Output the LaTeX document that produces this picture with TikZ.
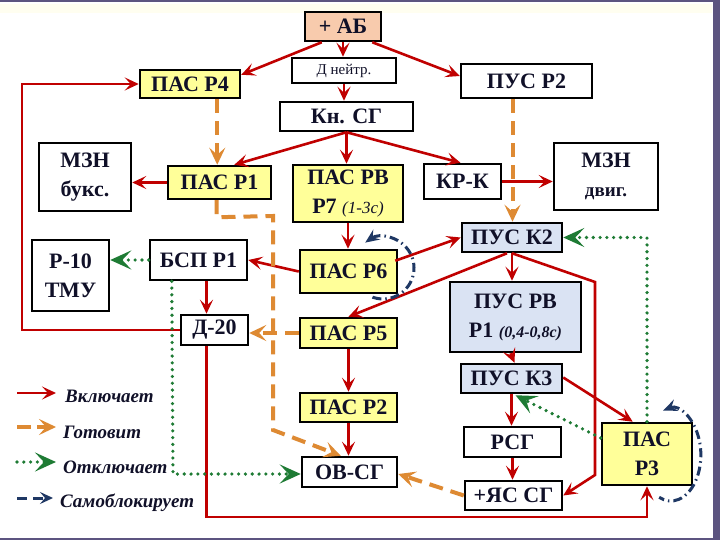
\documentclass[tikz,border=0pt]{standalone}
\usepackage{fontspec}
\setmainfont{Liberation Serif}
\usetikzlibrary{arrows.meta,calc}
\definecolor{incred}{HTML}{C00000}
\definecolor{prepor}{HTML}{DE8A33}
\definecolor{offgr}{HTML}{1E7B34}
\definecolor{blkn}{HTML}{1F3864}
\definecolor{yel}{HTML}{FFFF99}
\definecolor{peach}{HTML}{F8CBAD}
\definecolor{lblue}{HTML}{DAE3F3}
\definecolor{frm}{HTML}{5C5480}
\definecolor{txt}{HTML}{101028}
\tikzset{
  box/.style={draw=black, line width=2.5pt, inner sep=0pt, align=center, text=txt,
    font=\bfseries\fontsize{22}{29}\selectfont},
  inc/.style={draw=incred, line width=2.6pt, -{Stealth[length=14pt,width=13pt,inset=6pt]}},
  prep/.style={draw=prepor, line width=4pt, dash pattern=on 14pt off 8pt,
    -{Stealth[length=17pt,width=16pt,inset=7pt]}},
  offd/.style={draw=offgr, line width=3.6pt, line cap=round, dash pattern=on 0pt off 6.8pt,
    -{Stealth[length=21pt,width=19pt,inset=9pt]}},
  selfb/.style={draw=blkn, line width=3pt, dash pattern=on 9pt off 4pt on 1.5pt off 4pt,
    {Stealth[length=14pt,width=12pt,inset=5pt]}-},
  legtext/.style={anchor=west, inner sep=0pt, text=txt, font=\bfseries\itshape\fontsize{19}{21}\selectfont}
}
\begin{document}
\begin{tikzpicture}[x=1pt,y=1pt]
\useasboundingbox (0,0) rectangle (720,-540);
\fill[white] (0,0) rectangle (720,-540);
\fill[yellow!6] (0,-4) rectangle (712,-13);
\fill[frm] (0,0) rectangle (720,-2.5);
\fill[frm] (0,-537.5) rectangle (720,-540);
\fill[frm] (712.5,0) rectangle (720,-540);

% nodes
\node[box, fill=peach, minimum width=76pt, minimum height=29pt] (ab) at (343,-26.5) {+ АБ};
\node[box, fill=white, minimum width=104pt, minimum height=25pt, font=\mdseries\fontsize{15}{18}\selectfont] (dn) at (344,-70.5) {Д нейтр.};
\node[box, fill=yel, minimum width=100pt, minimum height=28pt] (p4) at (190,-84) {ПАС Р4};
\node[box, fill=white, minimum width=131pt, minimum height=34pt] (pusr2) at (526.5,-81) {ПУС Р2};
\node[box, fill=white, minimum width=133pt, minimum height=29pt] (kn) at (346.5,-116.5) {Кн. СГ};
\node[box, fill=white, minimum width=92pt, minimum height=68pt] (mzb) at (85,-177) {МЗН\\букс.};
\node[box, fill=yel, minimum width=103pt, minimum height=33pt] (p1) at (219.5,-182.5) {ПАС Р1};
\node[box, fill=yel, minimum width=110pt, minimum height=57pt] (prv) at (348,-193.5) {ПАС РВ\\Р7 {\mdseries\itshape\fontsize{17}{20}\selectfont (1-3с)}};
\node[box, fill=white, minimum width=77pt, minimum height=35pt] (krk) at (462.5,-181.5) {КР-К};
\node[box, fill=white, minimum width=104pt, minimum height=67pt] (mzd) at (606,-176.5) {МЗН\\{\fontsize{19}{29}\selectfont двиг.}};
\node[box, fill=white, minimum width=77pt, minimum height=71pt] (r10) at (70.5,-275.5) {Р-10\\ТМУ};
\node[box, fill=white, minimum width=97pt, minimum height=40pt] (bsp) at (198.5,-260) {БСП Р1};
\node[box, fill=yel, minimum width=97pt, minimum height=43pt] (p6) at (348.5,-271.5) {ПАС Р6};
\node[box, fill=lblue, minimum width=100pt, minimum height=29pt] (k2) at (512,-237.5) {ПУС К2};
\node[box, fill=white, minimum width=67pt, minimum height=30pt] (d20) at (214.5,-330) {Д-20};
\node[box, fill=yel, minimum width=97pt, minimum height=30pt] (p5) at (348.5,-333) {ПАС Р5};
\node[box, fill=lblue, minimum width=131pt, minimum height=70pt] (purv) at (515.5,-317) {ПУС РВ\\Р1 {\itshape\fontsize{16}{20}\selectfont (0,4-0,8с)}};
\node[box, fill=lblue, minimum width=101pt, minimum height=29pt] (k3) at (511.5,-378.5) {ПУС К3};
\node[box, fill=yel, minimum width=97pt, minimum height=29pt] (p2) at (348.5,-407.5) {ПАС Р2};
\node[box, fill=white, minimum width=97pt, minimum height=30pt] (rsg) at (512.5,-442) {РСГ};
\node[box, fill=white, minimum width=95pt, minimum height=30pt] (ov) at (349.5,-472) {ОВ-СГ};
\node[box, fill=white, minimum width=97pt, minimum height=29pt] (yas) at (513.5,-495.5) {+ЯС СГ};
\node[box, fill=yel, minimum width=90pt, minimum height=62pt] (p3) at (647,-454) {ПАС\\Р3};

% helper coordinates
\coordinate (rA) at (595,-282);
\coordinate (rB) at (595,-475);
\coordinate (rC) at (22,-330);
\coordinate (rD) at (206.5,-517);
\coordinate (oA) at (273,-216);
\coordinate (oB) at (273,-430);
\coordinate (gA) at (173,-474);
\coordinate (q1) at ($(p4.south east)+(-24,0)$);
\coordinate (q2) at ($(pusr2.south)+(-14,0)$);
\coordinate (q3) at ($(bsp.south)+(8,0)$);
\coordinate (q4) at ($(p1.south)+(-3,0)$);
\coordinate (q5) at ($(p1.south)+(-3,-17)$);

% red: includes
\draw[inc] ($(ab.south west)+(18,0)$) -- ($(p4.north east)+(0,-6)$);
\draw[inc] (ab.south) -- (ab.south |- dn.north);
\draw[inc] ($(ab.south east)+(-10,0)$) -- ($(pusr2.west)+(0,5)$);
\draw[inc] (dn.south) -- (dn.south |- kn.north);
\draw[inc] (kn.south) -- ($(p1.north east)+(-38,0)$);
\draw[inc] (kn.south) -- (kn.south |- prv.north);
\draw[inc] (kn.south) -- ($(krk.north)+(-2,0)$);
\draw[inc] (p1.west) -- (p1.west -| mzb.east);
\draw[inc] (krk.east) -- (krk.east -| mzd.west);
\draw[inc] (prv.south) -- (prv.south |- p6.north);
\draw[inc] (p6.west) -- (bsp.east);
\draw[inc] ($(p6.north east)+(-3,-12)$) -- (k2.west);
\draw[inc] ($(k2.south)+(-5,0)$) -- (p5.north);
\draw[inc] (k2.south) -- (k2.south |- purv.north);
\draw[inc] (k2.south) -- (rA) -- (rB) -- (yas.east);
\draw[inc] (q3) -- (q3 |- d20.north);
\draw[inc] (d20.west) -- (rC) |- (p4.west);
\draw[inc] ($(d20.south)+(-8,0)$) -- (rD) -| (p3.south);
\draw[inc] (p5.south) -- (p2.north);
\draw[inc] (p2.south) -- (p2.south |- ov.north);
\draw[inc] ($(purv.south)+(-5,0)$) -- ($(k3.north)+(3,0)$);
\draw[inc] (k3.south) -- (k3.south |- rsg.north);
\draw[inc] (rsg.south) -- (rsg.south |- yas.north);
\draw[inc] ($(k3.east)+(0,1)$) -- ($(p3.north west)+(32,0)$);

% orange: prepares
\draw[prep] (q1) -- (q1 |- p1.north);
\draw[prep] (q2) -- (q2 |- k2.north);
\draw[prep] (q4) -- (q5) -- (oA) -- (oB) -- ($(ov.north west)+(40,0)$);
\draw[prep] (p5.west) -- (p5.west -| d20.east);
\draw[prep] (yas.west) -- ($(ov.east)+(0,-2)$);

% green: switches off
\draw[offd] (bsp.west) -- (bsp.west -| r10.east);
\draw[offd] ($(bsp.south west)+(23,0)$) -- (gA) -- (gA -| ov.west);
\draw[offd] (p3.north) |- (k2.east);
\draw[offd] ($(p3.west)+(0,16)$) -- ($(k3.south)+(4,-1)$);

% navy: self-locking
\draw[selfb] (383,-268) ++(125:31) arc[start angle=125, end angle=-117, radius=31];
\draw[selfb] (675,-455) ++(105:46) arc[start angle=105, end angle=-113, x radius=30, y radius=46];

% legend
\coordinate (la1) at (17,-393); \coordinate (lb1) at (56,-393);
\coordinate (la2) at (17,-427); \coordinate (lb2) at (56,-427);
\coordinate (la3) at (17,-462); \coordinate (lb3) at (56,-462);
\coordinate (la4) at (17,-498); \coordinate (lb4) at (53,-498);
\draw[inc] (la1) -- (lb1);
\draw[prep, dash pattern=on 14pt off 6pt] (la2) -- (lb2);
\draw[offd] (la3) -- (lb3);
\draw[selfb, {}-{Stealth[length=13pt,width=12pt,inset=5pt]}, dash pattern=on 10pt off 6pt] (la4) -- (lb4);
\node[legtext] (t1) at (65,-396) {Включает};
\node[legtext] (t2) at (63,-432) {Готовит};
\node[legtext] (t3) at (63,-467) {Отключает};
\node[legtext] (t4) at (60,-503) {Самоблокирует};
\end{tikzpicture}
\end{document}
